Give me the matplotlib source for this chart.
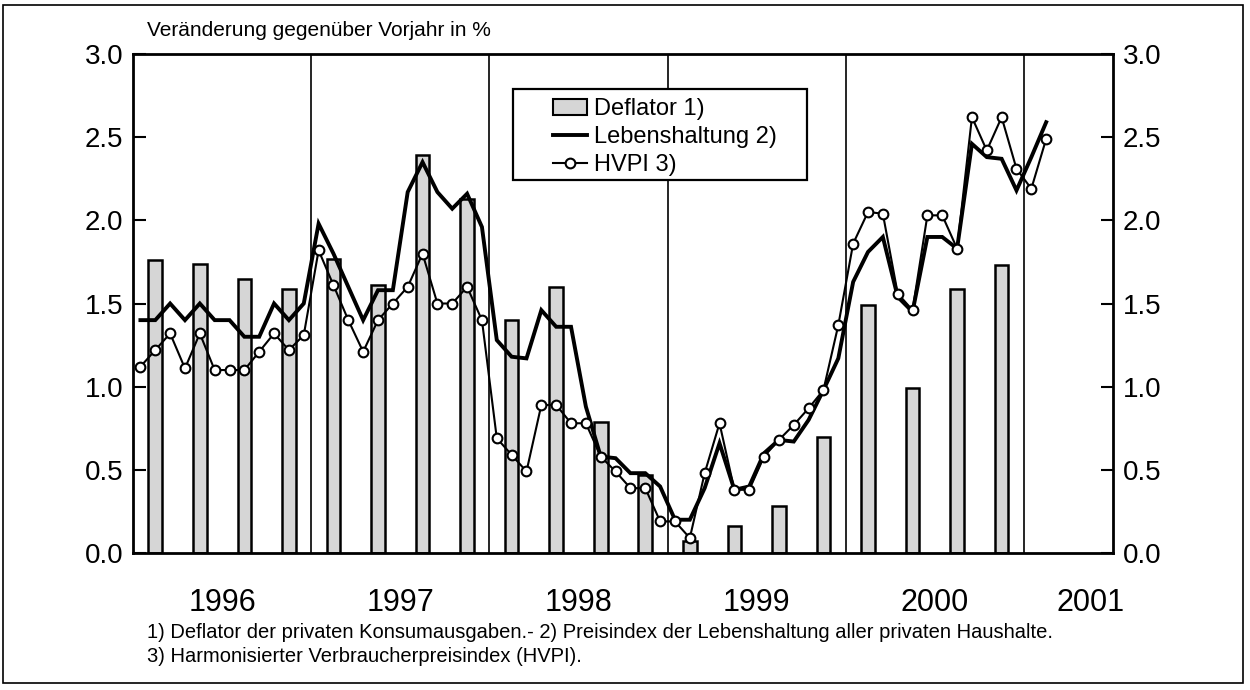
import matplotlib
matplotlib.use("Agg")
import matplotlib.pyplot as plt
from matplotlib.patches import Rectangle, Patch
from matplotlib.lines import Line2D
import numpy as np

plt.rcParams['font.family'] = ['Liberation Sans', 'DejaVu Sans']

# ---- data ----
years = ["1996", "1997", "1998", "1999", "2000", "2001"]
deflator = [1.76, 1.74, 1.65, 1.59,
            1.77, 1.61, 2.39, 2.13,
            1.40, 1.60, 0.79, 0.47,
            0.07, 0.16, 0.28, 0.70,
            1.49, 0.99, 1.59, 1.73]
lebenshaltung = [1.4, 1.4, 1.5, 1.4, 1.5, 1.4, 1.4, 1.3, 1.3, 1.5, 1.4, 1.5,
                 1.98, 1.8, 1.6, 1.4, 1.58, 1.58, 2.17, 2.35, 2.17, 2.07, 2.16, 1.96,
                 1.28, 1.18, 1.17, 1.46, 1.36, 1.36, 0.88, 0.58, 0.57, 0.48, 0.48, 0.4,
                 0.2, 0.2, 0.39, 0.66, 0.38, 0.4, 0.6, 0.68, 0.67, 0.8, 0.98, 1.17,
                 1.63, 1.81, 1.9, 1.54, 1.45, 1.9, 1.9, 1.83, 2.46, 2.38, 2.37, 2.18,
                 2.38, 2.59]
hvpi = [1.12, 1.22, 1.32, 1.11, 1.32, 1.1, 1.1, 1.1, 1.21, 1.32, 1.22, 1.31,
        1.82, 1.61, 1.4, 1.21, 1.4, 1.5, 1.6, 1.8, 1.5, 1.5, 1.6, 1.4,
        0.69, 0.59, 0.49, 0.89, 0.89, 0.78, 0.78, 0.58, 0.49, 0.39, 0.39, 0.19,
        0.19, 0.09, 0.48, 0.78, 0.38, 0.38, 0.58, 0.68, 0.77, 0.87, 0.98, 1.37,
        1.86, 2.05, 2.04, 1.56, 1.46, 2.03, 2.03, 1.83, 2.62, 2.42, 2.62, 2.31,
        2.19, 2.49]
yticks = [0.0, 0.5, 1.0, 1.5, 2.0, 2.5, 3.0]
year_label_pos = [6, 18, 30, 42, 54, 64.5]

W, H = 1250, 690

def fx(px):
    return px / W

def fy(py):
    return 1 - py / H

# ---- figure ----
fig = plt.figure(figsize=(12.5, 6.9), dpi=100)
ax = fig.add_axes([fx(133), fy(553), (1113 - 133) / W, (553 - 54) / H])

xq = np.arange(len(deflator)) * 3 + 1.5
xm = np.arange(len(lebenshaltung)) + 0.5

ax.bar(xq, deflator, width=0.92, color='#d6d6d6', edgecolor='black',
       linewidth=1.8, zorder=2)
for yb in range(12, 61, 12):
    ax.axvline(yb, color='black', lw=1.2, zorder=1)
ax.plot(xm, lebenshaltung, color='black', lw=2.8, zorder=3,
        solid_joinstyle='miter')
ax.plot(xm, hvpi, color='black', lw=1.5, marker='o', markersize=7,
        markerfacecolor='white', markeredgecolor='black', markeredgewidth=1.5,
        zorder=4)

ax.set_xlim(0, 66)
ax.set_ylim(0, 3.0)
ax.set_yticks(yticks)
ax.set_yticklabels([f"{v:.1f}" for v in yticks])
ax.tick_params(axis='y', direction='in', length=9, width=1.5, labelsize=20,
               pad=7, left=True, right=True, labelleft=True, labelright=True)
ax.set_xticks(year_label_pos)
ax.set_xticklabels(years)
ax.tick_params(axis='x', length=0, labelsize=22, pad=25)
for s in ax.spines.values():
    s.set_linewidth(2)

# legend box (drawn manually to match padding)
ax.add_patch(Rectangle((fx(513), fy(180)), (807 - 513) / W, (180 - 89) / H,
                       transform=fig.transFigure, facecolor='white',
                       edgecolor='black', linewidth=1.6, zorder=9,
                       clip_on=False))
handles = [Patch(facecolor='#d6d6d6', edgecolor='black', linewidth=1.5),
           Line2D([], [], color='black', lw=2.8),
           Line2D([], [], color='black', lw=1.5, marker='o', markersize=7,
                  markerfacecolor='white', markeredgewidth=1.5)]
leg = fig.legend(handles, ["Deflator 1)", "Lebenshaltung 2)", "HVPI 3)"],
                 loc='upper left', bbox_to_anchor=(fx(553), fy(98)),
                 fontsize=17, frameon=False, borderpad=0, labelspacing=0.25,
                 handlelength=1.45, handletextpad=0.3, borderaxespad=0,
                 handleheight=0.65)
leg.set_zorder(10)

fig.text(fx(147), fy(30), "Veränderung gegenüber Vorjahr in %",
         fontsize=15, ha='left', va='center')
fig.text(fx(147), fy(632),
         "1) Deflator der privaten Konsumausgaben.- 2) Preisindex der Lebenshaltung aller privaten Haushalte.",
         fontsize=14.5, ha='left', va='center')
fig.text(fx(147), fy(656),
         "3) Harmonisierter Verbraucherpreisindex (HVPI).",
         fontsize=14.5, ha='left', va='center')

fig.patches.append(Rectangle((fx(3), fy(683)), 1240 / W, 678 / H,
                             transform=fig.transFigure, fill=False,
                             edgecolor='black', linewidth=1.2))

fig.savefig("out.png", dpi=100)
